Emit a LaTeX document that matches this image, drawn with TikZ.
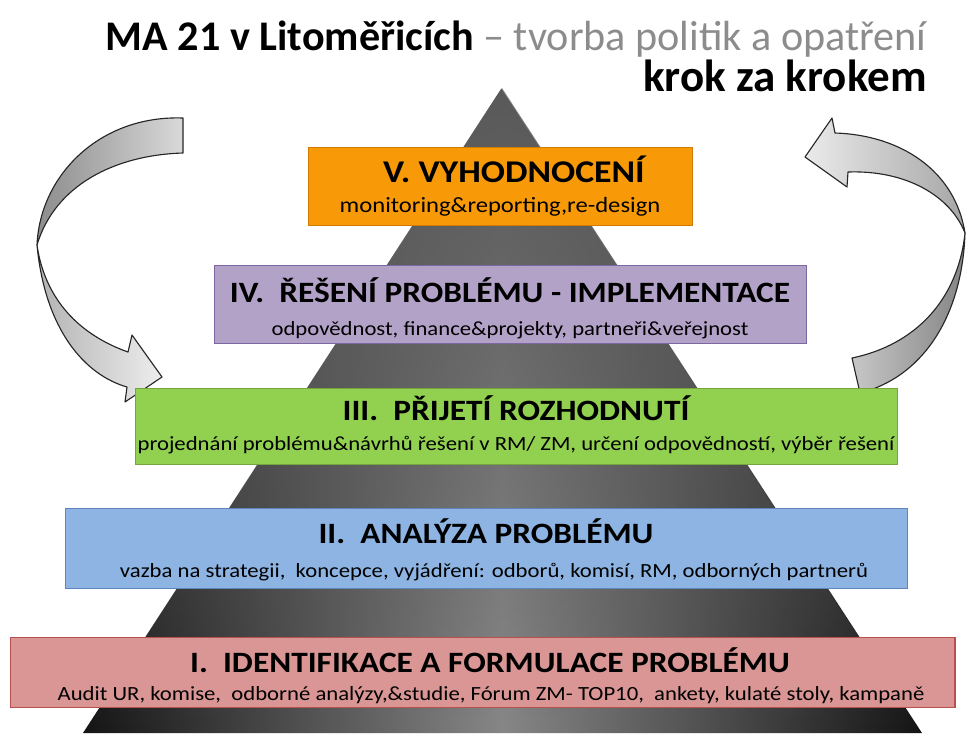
\documentclass[tikz,border=0pt]{standalone}
\usepackage{fontspec}
\setmainfont{Carlito}
\newfontfamily\stepfont[FakeStretch=1.13]{Carlito}
\usetikzlibrary{positioning,fadings}

\definecolor{krokV}{HTML}{F89A08}
\definecolor{krokVline}{HTML}{D07A00}
\definecolor{krokIV}{HTML}{B3A2C7}
\definecolor{krokIVline}{HTML}{7E66A0}
\definecolor{krokIII}{HTML}{92D050}
\definecolor{krokIIIline}{HTML}{76A53E}
\definecolor{krokII}{HTML}{8DB4E2}
\definecolor{krokIIline}{HTML}{5F86BC}
\definecolor{krokI}{HTML}{D99694}
\definecolor{krokIline}{HTML}{B8504D}

\begin{document}
\begin{tikzpicture}[x=0.025cm,y=-0.025cm,
  stepbox/.style={draw, line width=0.9pt, inner sep=0pt, anchor=north west},
  steptitle/.style={font=\stepfont\fontsize{21}{25}\selectfont\bfseries, inner sep=0pt, anchor=base},
  stepnote/.style={font=\stepfont\fontsize{14.3}{17}\selectfont, inner sep=0pt, anchor=base},
  arrowpart/.style={draw=black!85, line width=0.8pt, line join=round}]
  \useasboundingbox (0,0) rectangle (966,733);

  % pyramid
  \shade[left color=black!92, right color=black!92, middle color=black!47]
    (502,88) -- (922,733) -- (83,733) -- cycle;
  \fill[black!65, path fading=south]
    (502,88) -- (922,733) -- (83,733) -- cycle;

  % title
  \node[anchor=base east, inner sep=0pt, font=\fontsize{30}{36}\selectfont] (titul) at (927,50)
    {\textbf{MA 21 v Litoměřicích} \textcolor{black!45}{– tvorba politik a opatření}};
  \node[anchor=base east, inner sep=0pt, font=\fontsize{32}{38}\selectfont\bfseries] (podtitul) at (927,91)
    {krok za krokem};

  % left arrow
  \shade[arrowpart, left color=black!45, right color=black!15]
    (183,118) .. controls (100,115) and (40,175) .. (37,245)
    .. controls (55,185) and (115,155) .. (183,153) -- cycle;
  \shade[arrowpart, left color=black!30, right color=black!7]
    (37,245) .. controls (45,330) and (85,375) .. (127,387)
    -- (125,402) -- (162,377) -- (132,335) -- (128,352)
    .. controls (80,335) and (45,300) .. (37,245) -- cycle;

  % right arrow
  \shade[arrowpart, left color=black!22, right color=black!48]
    (852,358) -- (860,393) .. controls (920,378) and (962,320) .. (965,233)
    .. controls (958,300) and (915,345) .. (852,358) -- cycle;
  \shade[arrowpart, left color=black!8, right color=black!35]
    (965,233) .. controls (955,170) and (900,135) .. (835,133)
    -- (832,118) -- (805,157) -- (847,187) -- (848,172)
    .. controls (905,170) and (950,195) .. (965,233) -- cycle;

  % V
  \node[stepbox, fill=krokV, draw=krokVline, minimum width=9.6cm, minimum height=1.95cm] (krok5) at (308,147) {};
  \node[steptitle, font=\stepfont\fontsize{22.5}{26}\selectfont\bfseries] at (514,182) {V. VYHODNOCENÍ};
  \node[stepnote, font=\stepfont\fontsize{15.5}{18}\selectfont] at (500,212) {monitoring\&reporting,re-design};

  % IV
  \node[stepbox, fill=krokIV, draw=krokIVline, minimum width=14.8cm, minimum height=1.95cm] (krok4) at (214,265) {};
  \node[steptitle] at (510,302) {IV.\ \ ŘEŠENÍ PROBLÉMU - IMPLEMENTACE};
  \node[stepnote] at (510,335) {odpovědnost, finance\&projekty, partneři\&veřejnost};

  % III
  \node[stepbox, fill=krokIII, draw=krokIIIline, minimum width=19.05cm, minimum height=1.9cm] (krok3) at (135,388) {};
  \node[steptitle] at (516,420) {III.\ \ PŘIJETÍ ROZHODNUTÍ};
  \node[stepnote] at (516,450) {projednání problému\&návrhů řešení v RM/ ZM, určení odpovědností, výběr řešení};

  % II
  \node[stepbox, fill=krokII, draw=krokIIline, minimum width=21.05cm, minimum height=2cm] (krok2) at (65,508) {};
  \node[steptitle] at (486,543) {II.\ \ ANALÝZA PROBLÉMU};
  \node[stepnote] at (494,577) {vazba na strategii,\ \ koncepce, vyjádření: odborů, komisí, RM, odborných partnerů};

  % I
  \node[stepbox, fill=krokI, draw=krokIline, minimum width=23.6cm, minimum height=1.75cm] (krok1) at (10,637) {};
  \node[steptitle] at (490,672) {I.\ \ IDENTIFIKACE A FORMULACE PROBLÉMU};
  \node[stepnote] at (491,700) {Audit UR, komise,\ \ odborné analýzy,\&studie, Fórum ZM- TOP10,\ \ ankety, kulaté stoly, kampaně};

\end{tikzpicture}
\end{document}
